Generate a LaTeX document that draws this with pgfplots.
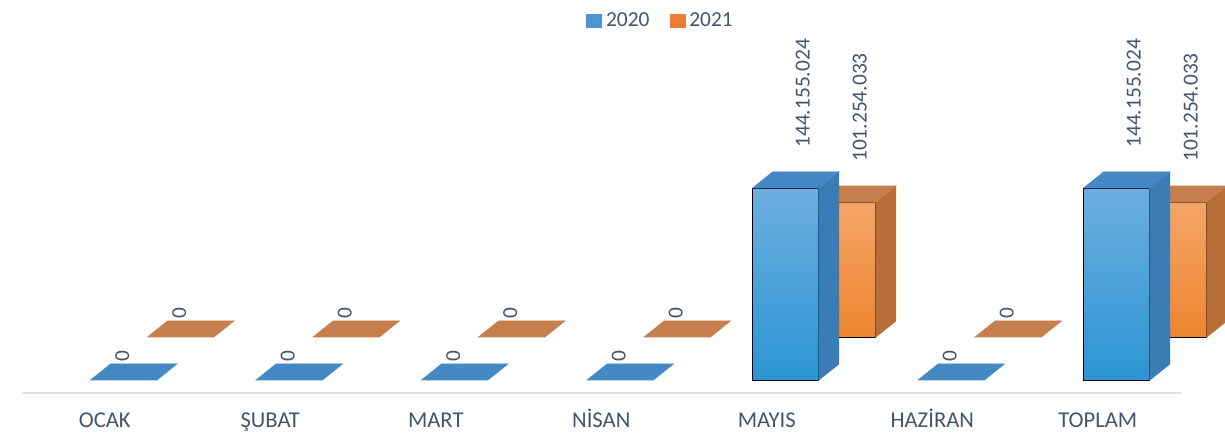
\documentclass[border=0pt]{standalone}
\usepackage{fontspec}
\setmainfont{Carlito}
\usepackage{pgfplots}
\usepackage{pgfplotstable}
\pgfplotsset{compat=1.18}

\definecolor{bfronttop}{HTML}{6DAEE0}
\definecolor{bfrontbot}{HTML}{2B95D2}
\definecolor{bside}{HTML}{3A7CB6}
\definecolor{btop}{HTML}{4488C4}
\definecolor{ofronttop}{HTML}{F5A468}
\definecolor{ofrontbot}{HTML}{EC8630}
\definecolor{oside}{HTML}{B86E38}
\definecolor{otop}{HTML}{C67E4C}
\definecolor{bleg}{HTML}{4F95D6}
\definecolor{oleg}{HTML}{EE7D33}
\definecolor{ctext}{HTML}{44546A}
\definecolor{cline}{HTML}{DCDFE3}

\pgfdeclareplotmark{blank}{}

\tikzset{lbl/.style={rotate=90, anchor=west, inner sep=0pt, text=ctext,
  font=\fontsize{10.7}{12}\selectfont}}

% one 3D column per point: front (shaded), side, top; value label above
% front face spans -7pt..26pt from the category position, depth (10pt,8pt)
\pgfplotsset{
  box3d/.style n args={4}{
    scatter, only marks, mark=blank, forget plot,
    point meta=explicit symbolic,
    visualization depends on={\thisrow{v} \as \vv},
    scatter/@pre marker code/.code={%
      \pgfkeys{/pgf/fpu=false}%
      \pgfmathsetlengthmacro\hh{\vv*0.666}%
      \ifdim\hh>0.5pt
        \shade[top color=#1, bottom color=#2] (-7pt,0pt) rectangle (26pt,-\hh);
        \fill[#3] (26pt,0pt) -- (36pt,8pt) -- (36pt,8pt-\hh) -- (26pt,-\hh) -- cycle;
        \node[lbl] at (18pt,20pt) {\pgfplotspointmeta};
      \else
        \node[lbl] at (8.75pt,9pt) {\pgfplotspointmeta};
      \fi
      \fill[#4] (-7pt,0pt) -- (26pt,0pt) -- (36pt,8pt) -- (3pt,8pt) -- cycle;
    },
    scatter/@post marker code/.code={},
  },
  base/.style={
    x=82.75pt, y=0.666pt,
    xmin=-0.5, xmax=6.5, ymin=-9.76, ymax=200,
    anchor=south west, clip=false,
  },
}

% values in millions, label as printed
\pgfplotstableread{
x v lab
0 0 0
1 0 0
2 0 0
3 0 0
4 144.155024 144.155.024
5 0 0
6 144.155024 144.155.024
}\tabA
\pgfplotstableread{
x v lab
0 0 0
1 0 0
2 0 0
3 0 0
4 101.254033 101.254.033
5 0 0
6 101.254033 101.254.033
}\tabB

\begin{document}
\begin{tikzpicture}
% 2021, back row
\begin{axis}[base, at={(28.5pt,21.5pt)}, hide axis]
  \addplot[box3d={ofronttop}{ofrontbot}{oside}{otop}] table[x=x, y=v, meta=lab] {\tabB};
\end{axis}
% 2020, front row
\begin{axis}[base, at={(0pt,0pt)},
    axis x line*=bottom, axis y line=none,
    x axis line style={draw=cline, line width=0.8pt, -},
    xtick={0,...,6},
    xticklabels={OCAK,ŞUBAT,MART,NİSAN,MAYIS,HAZİRAN,TOPLAM},
    xtick style={draw=none}, ytick=\empty,
    xticklabel style={anchor=base, yshift=-17.5pt, text=ctext,
      font=\fontsize{11.3}{13}\selectfont},
    legend columns=2,
    legend style={draw=none, fill=none, text=ctext,
      font=\fontsize{10.7}{12}\selectfont,
      at={(axis description cs:0.552,1.33)}, anchor=center,
      /tikz/every even column/.append style={column sep=8pt}},
  ]
  \addplot[box3d={bfronttop}{bfrontbot}{bside}{btop}] table[x=x, y=v, meta=lab] {\tabA};
  \addlegendimage{legend image code/.code={\fill[bleg] (0pt,-3.25pt) rectangle (7.5pt,3.25pt);}}
  \addlegendimage{legend image code/.code={\fill[oleg] (0pt,-3.25pt) rectangle (7.5pt,3.25pt);}}
  \legend{2020,2021}
\end{axis}
\pgfresetboundingbox
\path[use as bounding box] (-11pt,-22pt) rectangle (601.5pt,196.5pt);
\end{tikzpicture}
\end{document}
